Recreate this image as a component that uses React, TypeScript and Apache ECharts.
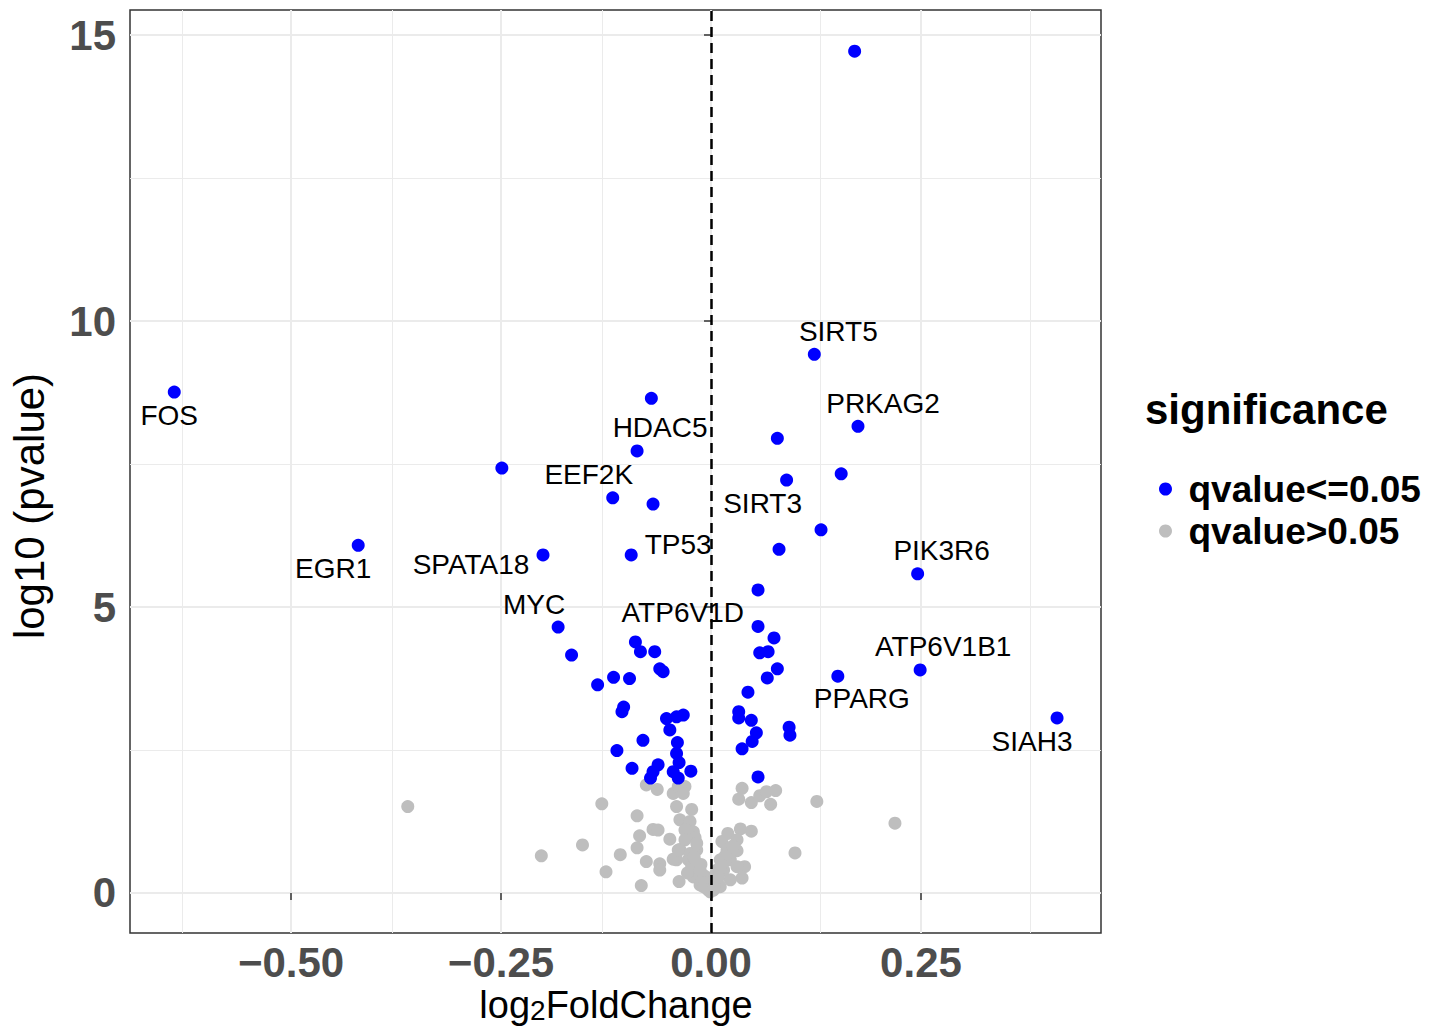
import React, { useEffect, useRef } from "react";
import * as echarts from "echarts";

// Labeled significant genes
const geneNames = ["FOS", "SIRT5", "PRKAG2", "HDAC5", "EEF2K", "SIRT3", "EGR1", "SPATA18", "TP53", "MYC", "ATP6V1D", "PIK3R6", "ATP6V1B1", "PPARG", "SIAH3"];
const geneFC = [-0.639, 0.123, 0.175, -0.088, -0.117, 0.09, -0.42, -0.2, -0.095, -0.182, -0.067, 0.246, 0.249, 0.151, 0.412];
const geneLogP = [8.76, 9.42, 8.16, 7.73, 6.91, 7.22, 6.08, 5.91, 5.91, 4.65, 4.22, 5.58, 3.9, 3.79, 3.06];

// Other significant points (qvalue <= 0.05)
const sigPoints: [number, number][] = [
  [0.171, 14.72], [-0.071, 8.65], [0.079, 7.95], [-0.249, 7.43], [0.155, 7.33], [-0.069, 6.8], [0.131, 6.35], [0.081, 6.01],
  [0.056, 5.3], [-0.166, 4.16], [-0.09, 4.39], [-0.084, 4.22], [-0.061, 3.92], [-0.057, 3.87], [-0.135, 3.64], [-0.116, 3.77],
  [-0.097, 3.75], [-0.104, 3.25], [-0.106, 3.17], [-0.053, 3.05], [-0.041, 3.08], [-0.033, 3.11], [-0.049, 2.85], [-0.081, 2.67],
  [-0.112, 2.49], [-0.04, 2.63], [-0.041, 2.44], [-0.038, 2.28], [-0.094, 2.18], [-0.063, 2.24], [-0.069, 2.12], [-0.072, 2.01],
  [-0.045, 2.12], [-0.039, 2.01], [-0.024, 2.13], [0.056, 4.66], [0.075, 4.46], [0.058, 4.2], [0.068, 4.22], [0.079, 3.92],
  [0.067, 3.76], [0.044, 3.51], [0.033, 3.17], [0.033, 3.06], [0.048, 3.02], [0.054, 2.8], [0.049, 2.65], [0.037, 2.52],
  [0.093, 2.9], [0.094, 2.76], [0.056, 2.03],
];

// Non-significant points (qvalue > 0.05)
const nsPoints: [number, number][] = [
  [-0.361, 1.51], [-0.202, 0.65], [-0.153, 0.84], [-0.13, 1.56], [-0.125, 0.37], [-0.108, 0.67], [-0.088, 1.35], [-0.085, 1.0],
  [-0.088, 0.79], [-0.083, 0.13], [-0.077, 1.89], [-0.064, 1.81], [-0.077, 0.55], [-0.069, 1.11], [-0.063, 1.1], [-0.061, 0.51],
  [-0.061, 0.4], [-0.049, 0.94], [-0.045, 1.74], [-0.039, 1.86], [-0.031, 1.86], [-0.033, 1.74], [-0.041, 1.51], [-0.023, 1.46],
  [-0.037, 1.28], [-0.025, 1.25], [-0.031, 1.1], [-0.021, 1.07], [-0.031, 0.93], [-0.019, 0.97], [-0.037, 0.76], [-0.017, 0.75],
  [-0.041, 0.58], [-0.027, 0.58], [-0.038, 0.2], [-0.023, 0.46], [-0.021, 0.28], [-0.013, 0.14], [-0.001, 0.02], [-0.009, 0.11],
  [-0.013, 0.4], [-0.005, 0.23], [-0.045, 0.59], [-0.025, 0.69], [-0.039, 0.75], [-0.017, 0.87], [-0.008, 0.3], [-0.012, 0.5],
  [-0.02, 0.62], [-0.028, 0.35], [-0.006, 0.18], [-0.004, 0.06],
  [0.037, 1.83], [0.033, 1.64], [0.048, 1.58], [0.058, 1.7], [0.066, 1.77], [0.077, 1.79], [0.071, 1.55], [0.126, 1.6],
  [0.035, 1.12], [0.048, 1.08], [0.02, 1.04], [0.013, 0.9], [0.031, 0.93], [0.019, 0.75], [0.031, 0.74], [0.1, 0.7],
  [0.011, 0.58], [0.023, 0.58], [0.04, 0.46], [0.015, 0.4], [0.037, 0.26], [0.023, 0.23], [0.007, 0.2], [0.011, 0.11],
  [0.003, 0.05], [0.219, 1.22], [0.031, 0.46], [0.007, 0.4], [0.005, 0.32], [0.017, 0.65], [0.026, 0.82], [0.004, 0.1],
  [0.009, 0.28], [0.012, 0.5],
];

const xTicks = [-0.5, -0.25, 0, 0.25];
const xMinor = [-0.625, -0.375, -0.125, 0.125, 0.375];
const yTicks = [0, 5, 10, 15];
const yMinor = [2.5, 7.5, 12.5];
const legendNames = ["qvalue<=0.05", "qvalue>0.05"];

// label offsets (px) relative to their point
const labelOffsets: Record<string, [number, number]> = {
  FOS: [-5, 23], SIRT5: [24, -23], PRKAG2: [25, -23], HDAC5: [23, -23], EEF2K: [-24, -23], SIRT3: [-24, 23],
  EGR1: [-25, 23], SPATA18: [-72, 10], TP53: [47, -10], MYC: [-24, -23], ATP6V1D: [28, -39], PIK3R6: [24, -23],
  ATP6V1B1: [23, -23], PPARG: [24, 22], SIAH3: [-25, 24],
};

const FONT = "'Liberation Sans', Arial, Helvetica, sans-serif";
const XMIN = -0.6917, XMAX = 0.4643, YMIN = -0.7, YMAX = 15.44;

export default function App() {
  const ref = useRef<HTMLDivElement>(null);
  useEffect(() => {
    if (!ref.current) return;
    const chart = echarts.init(ref.current, null, { renderer: "svg" });
    const labeled = geneNames.map((g, i) => ({
      value: [geneFC[i], geneLogP[i]],
      name: g,
      label: {
        show: true,
        position: "inside",
        formatter: g,
        offset: labelOffsets[g],
        color: "#000",
        fontSize: 28,
        fontFamily: FONT,
      },
    }));
    const sigData = [...labeled, ...sigPoints.map((p) => ({ value: p }))];
    const major = { color: "#ebebeb", width: 2, type: "solid" };
    const minor = { color: "#ebebeb", width: 1, type: "solid" };
    const gridLines = [
      ...xMinor.map((v) => ({ xAxis: v, lineStyle: minor })),
      ...yMinor.map((v) => ({ yAxis: v, lineStyle: minor })),
      ...xTicks.map((v) => ({ xAxis: v, lineStyle: major })),
      ...yTicks.map((v) => ({ yAxis: v, lineStyle: major })),
    ];
    chart.setOption({
      animation: false,
      backgroundColor: "#fff",
      grid: { left: 130, top: 10, width: 971, height: 923, show: true, borderColor: "#333", borderWidth: 1.5, backgroundColor: "#fff" },
      xAxis: {
        type: "value", min: XMIN, max: XMAX,
        splitLine: { show: false },
        axisLine: { show: false },
        axisTick: { show: true, length: 7, customValues: xTicks, lineStyle: { color: "#333", width: 1.5 } },
        axisLabel: {
          show: true, margin: 12, lineHeight: 34, color: "#4d4d4d", fontSize: 42, fontWeight: "bold", fontFamily: FONT,
          customValues: xTicks,
          formatter: (v: number) => v.toFixed(2).replace("-", "\u2212"),
        },
      },
      yAxis: {
        type: "value", min: YMIN, max: YMAX,
        splitLine: { show: false },
        axisLine: { show: false },
        axisTick: { show: true, length: 7, customValues: yTicks, lineStyle: { color: "#333", width: 1.5 } },
        axisLabel: {
          show: true, margin: 14, color: "#4d4d4d", fontSize: 42, fontWeight: "bold", fontFamily: FONT,
          customValues: yTicks,
          formatter: (v: number) => String(Math.round(v)),
        },
      },
      legend: {
        data: legendNames,
        orient: "vertical",
        left: 1159,
        top: 468,
        padding: 0,
        itemGap: 0,
        itemWidth: 36,
        itemHeight: 13,
        icon: "circle",
        symbolKeepAspect: true,
        textStyle: { fontSize: 37, fontWeight: "bold", color: "#000", fontFamily: FONT, lineHeight: 42 },
      },
      graphic: [
        {
          type: "text", left: 1145, top: 388,
          style: { text: "significance", fontSize: 42, fontWeight: "bold", fill: "#000", fontFamily: FONT },
        },
        {
          type: "text", x: 29, y: 506, rotation: Math.PI / 2,
          style: { text: "log10 (pvalue)", fontSize: 42, fill: "#000", fontFamily: FONT, align: "center", verticalAlign: "middle" },
        },
        {
          type: "text", x: 616, y: 1005,
          style: {
            text: "log{s|2}FoldChange", fontSize: 38, lineHeight: 32, fill: "#000", fontFamily: FONT, align: "center", verticalAlign: "middle",
            rich: { s: { fontSize: 28, lineHeight: 20, fontFamily: FONT, fill: "#000", padding: [10, 0, 0, 0] } },
          },
        },
      ],
      series: [
        {
          name: "grid", type: "line", data: [], z: 0, silent: true,
          markLine: { z: 0, silent: true, symbol: ["none", "none"], label: { show: false }, data: gridLines },
        },
        {
          name: legendNames[1], type: "scatter", z: 3,
          data: nsPoints, symbolSize: 13, itemStyle: { color: "#bebebe", opacity: 1 },
          silent: true,
        },
        {
          name: legendNames[0], type: "scatter", z: 4,
          data: sigData, symbolSize: 13, itemStyle: { color: "#0000ff", opacity: 1 },
          silent: true,
        },
        {
          name: "zero", type: "line", data: [], z: 6, silent: true,
          markLine: {
            z: 8, silent: true, symbol: ["none", "none"], label: { show: false },
            lineStyle: { color: "#000", width: 2.5, type: [10, 6] },
            data: [{ xAxis: 0 }],
          },
        },
      ],
    });
    return () => chart.dispose();
  }, []);
  return <div ref={ref} style={{ width: 1430, height: 1026, position: "absolute", left: 0, top: 0 }} />;
}
